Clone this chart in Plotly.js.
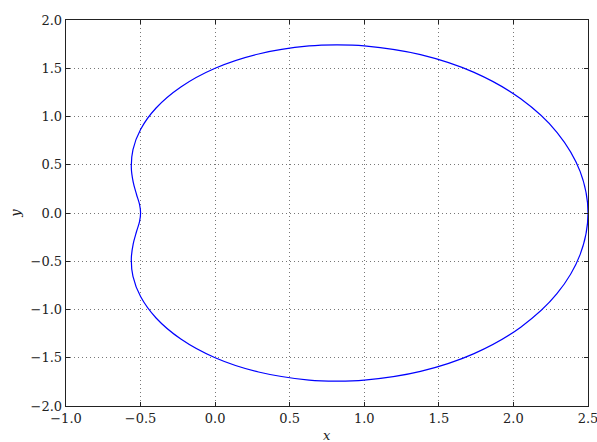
<!DOCTYPE html>
<html>
<head>
<meta charset="utf-8">
<script src="https://cdn.plot.ly/plotly-3.0.1.min.js"></script>
<style>html,body{margin:0;padding:0;background:#fff;overflow:hidden;}#chart{width:597px;height:442px;}</style>
</head>
<body>
<div id="chart"></div>
<script>
// Points (upper half, then lower half)
const xUpper = [2.5, 2.447, 2.293, 2.049, 1.736, 1.377, 1.0, 0.8125, 0.630, 0.291, 0.0, -0.230, -0.396, -0.5, -0.551, -0.562, -0.549, -0.527, -0.507, -0.5];
const yUpper = [0.0, 0.431, 0.834, 1.183, 1.457, 1.641, 1.732, 1.7425, 1.731, 1.648, 1.5, 1.306, 1.088, 0.866, 0.657, 0.472, 0.317, 0.192, 0.089, 0.0];
const xLower = [-0.507, -0.527, -0.549, -0.562, -0.551, -0.5, -0.396, -0.230, 0.0, 0.291, 0.630, 0.8125, 1.0, 1.377, 1.736, 2.049, 2.293, 2.447, 2.5];
const yLower = [-0.089, -0.192, -0.317, -0.472, -0.657, -0.866, -1.088, -1.306, -1.5, -1.648, -1.731, -1.7425, -1.732, -1.641, -1.457, -1.183, -0.834, -0.431, 0.0];
const xTicks = [-1.0, -0.5, 0.0, 0.5, 1.0, 1.5, 2.0, 2.5];
const xTickText = ["\u22121.0", "\u22120.5", "0.0", "0.5", "1.0", "1.5", "2.0", "2.5"];
const yTicks = [-2.0, -1.5, -1.0, -0.5, 0.0, 0.5, 1.0, 1.5, 2.0];
const yTickText = ["\u22122.0", "\u22121.5", "\u22121.0", "\u22120.5", "0.0", "0.5", "1.0", "1.5", "2.0"];

const xs = xUpper.concat(xLower);
const ys = yUpper.concat(yLower);

const font = {family: "DejaVu Serif", size: 13, color: '#222'};
const axisCommon = {
  showline: true, mirror: 'ticks', linecolor: '#222', linewidth: 1.3,
  ticks: 'inside', ticklen: 4, tickcolor: '#222', tickwidth: 1,
  showgrid: true, gridcolor: '#777', griddash: '1px,3px', gridwidth: 1,
  zeroline: false, tickfont: font, ticklabeloverflow: 'allow'
};

Plotly.newPlot('chart', [{
  x: xs, y: ys, type: 'scatter', mode: 'lines',
  line: {color: '#0000ff', width: 1.2, shape: 'spline', smoothing: 1},
  hoverinfo: 'skip'
}], {
  width: 597, height: 442,
  margin: {l: 66, r: 9, t: 20, b: 36},
  paper_bgcolor: '#fff', plot_bgcolor: '#fff',
  font: font,
  showlegend: false,
  xaxis: Object.assign({}, axisCommon, {
    range: [-1.0, 2.5], tickvals: xTicks, ticktext: xTickText
  }),
  yaxis: Object.assign({}, axisCommon, {
    range: [-2.0, 2.0], tickvals: yTicks, ticktext: yTickText
  }),
  annotations: [
    {text: '<i>x</i>', xref: 'paper', yref: 'paper', x: 0.5, y: -0.055, xanchor: 'center', yanchor: 'top', showarrow: false, borderpad: 0, font: font},
    {text: '<i>y</i>', xref: 'paper', yref: 'paper', x: -0.098, y: 0.5, xanchor: 'center', yanchor: 'middle', textangle: -90, showarrow: false, borderpad: 0, font: font}
  ]
}, {staticPlot: true});
</script>
</body>
</html>
